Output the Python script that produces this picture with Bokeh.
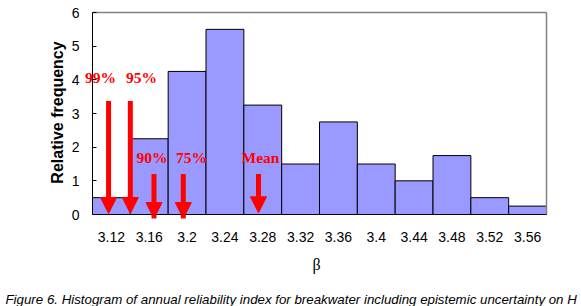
from bokeh.plotting import figure
from bokeh.models import Range1d, FixedTicker, Arrow, NormalHead, Label, Title, LinearAxis
from bokeh.embed import file_html
from bokeh.resources import INLINE

# Data
bin_centers = [3.12, 3.16, 3.20, 3.24, 3.28, 3.32, 3.36, 3.40, 3.44, 3.48, 3.52, 3.56]
tick_labels = ["3.12", "3.16", "3.2", "3.24", "3.28", "3.32", "3.36", "3.4", "3.44", "3.48", "3.52", "3.56"]
y_ticks = [0, 1, 2, 3, 4, 5, 6]
rel_freq = [0.5, 2.25, 4.25, 5.5, 3.25, 1.5, 2.75, 1.5, 1.0, 1.75, 0.5, 0.25]
bin_width = 0.04
x_lo, x_hi = 3.10, 3.58
y_lo, y_hi = 0, 6

marker_names = ["99%", "95%", "90%", "75%", "Mean"]
marker_beta = [3.117, 3.140, 3.165, 3.196, 3.2755]
arrow_top = [3.37, 3.37, 1.2, 1.2, 1.2]
arrow_tip = [0.03, 0.03, -0.12, -0.12, 0.05]
label_x = [3.1085, 3.1518, 3.1629, 3.2047, 3.2776]
label_y = [4.06, 4.06, 1.70, 1.70, 1.70]

p = figure(width=581, height=306, output_backend="svg", toolbar_location=None,
           x_range=Range1d(3.09154, 3.5821), y_range=Range1d(0, 6.06),
           min_border_left=84, min_border_right=33, min_border_top=10, min_border_bottom=0)

p.vbar(x=bin_centers, width=bin_width, top=rel_freq, bottom=0,
       fill_color="#9999FF", line_color="#000000", line_width=1)

# top and right frame borders
p.segment(x0=[x_lo, x_hi], y0=[y_hi, y_lo], x1=[x_hi, x_hi], y1=[y_hi, y_hi],
          line_color="#808080", line_width=1.5)

for name, xb, yt, yb, lx, ly in zip(marker_names, marker_beta, arrow_top, arrow_tip, label_x, label_y):
    p.add_layout(Arrow(x_start=xb, y_start=yt, x_end=xb, y_end=yb,
                       line_color="#FF0000", line_width=5, level="overlay",
                       end=NormalHead(size=16, fill_color="#FF0000", line_color="#FF0000", line_width=1)))
    p.add_layout(Label(x=lx, y=ly, text=name, text_color="#FF0000", level="overlay",
                       text_font="Liberation Serif", text_font_style="bold", text_font_size="15.5px",
                       text_align="center", text_baseline="middle"))

p.grid.visible = False
p.outline_line_color = None
p.background_fill_color = "white"
p.border_fill_color = "white"

# y axis (labels only, in the left panel)
p.yaxis.ticker = FixedTicker(ticks=y_ticks)
p.yaxis.major_tick_line_color = None
p.yaxis.major_tick_in = 0
p.yaxis.major_tick_out = 0
p.yaxis.minor_tick_line_color = None
p.yaxis.axis_line_color = None
p.yaxis.major_label_text_font = "Liberation Sans"
p.yaxis.major_label_text_font_size = "14px"
p.yaxis.major_label_text_color = "black"
p.yaxis.major_label_standoff = 5
p.yaxis.axis_label = "Relative frequency"
p.yaxis.axis_label_text_font = "Liberation Sans"
p.yaxis.axis_label_text_font_style = "bold"
p.yaxis.axis_label_text_font_size = "16px"
p.yaxis.axis_label_text_color = "black"
p.yaxis.axis_label_standoff = 3

# y axis line and inner ticks at beta = 3.10
yline = LinearAxis(fixed_location=x_lo, bounds=(y_lo, y_hi), ticker=FixedTicker(ticks=y_ticks),
                   major_tick_in=4, major_tick_out=0, minor_tick_line_color=None,
                   axis_line_color="black", major_tick_line_color="black",
                   major_label_text_font_size="0px", major_label_text_color=None,
                   major_label_standoff=0)
p.add_layout(yline, "left")

# x axis
p.xaxis.bounds = (x_lo, x_hi)
p.xaxis.ticker = FixedTicker(ticks=bin_centers)
p.xaxis.major_label_overrides = {c: t for c, t in zip(bin_centers, tick_labels)}
p.xaxis.major_tick_line_color = None
p.xaxis.major_tick_in = 0
p.xaxis.major_tick_out = 0
p.xaxis.minor_tick_line_color = None
p.xaxis.axis_line_color = "black"
p.xaxis.major_label_text_font = "Liberation Sans"
p.xaxis.major_label_text_font_size = "14px"
p.xaxis.major_label_text_color = "black"
p.xaxis.major_label_standoff = 17
p.xaxis.axis_label = "β"
p.xaxis.axis_label_text_font = "Liberation Serif"
p.xaxis.axis_label_text_font_style = "normal"
p.xaxis.axis_label_text_font_size = "16px"
p.xaxis.axis_label_text_color = "black"
p.xaxis.axis_label_standoff = 11

# invisible spacer between the axis and the caption
spacer = LinearAxis(ticker=FixedTicker(ticks=[]), axis_line_color=None,
                    major_tick_line_color=None, minor_tick_line_color=None,
                    major_tick_in=0, major_tick_out=0, minor_tick_in=0, minor_tick_out=0,
                    major_label_text_font_size="0px", major_label_standoff=0,
                    axis_label=".", axis_label_text_alpha=0, axis_label_text_font_size="12px",
                    axis_label_standoff=2)
p.add_layout(spacer, "below")

caption = Title(text="Figure 6. Histogram of annual reliability index for breakwater including epistemic uncertainty on H",
                align="left", text_font="Liberation Sans", text_font_style="italic",
                text_font_size="13.3px", text_color="black", offset=-79, standoff=0)
p.add_layout(caption, "below")

open("out.html", "w").write(file_html(p, INLINE))
